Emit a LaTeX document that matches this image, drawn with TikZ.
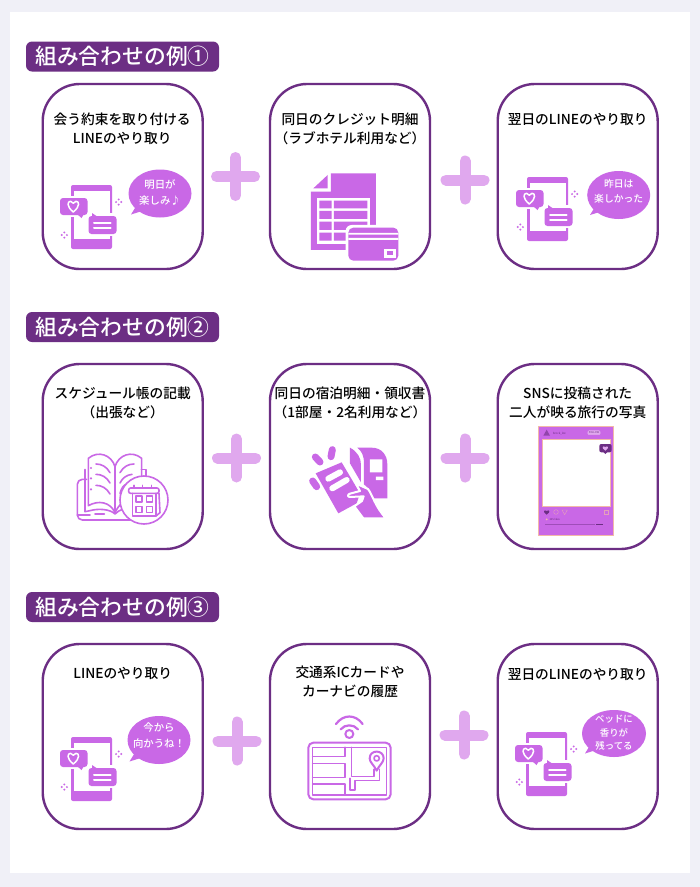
\documentclass[tikz,border=0pt]{standalone}
\usepackage{fontspec}
\setmainfont{Noto Sans CJK JP}
\newfontfamily\midfont{Noto Sans CJK JP Medium}
\definecolor{pagebg}{HTML}{F0F0F7}
\definecolor{deep}{HTML}{6C2E84}
\definecolor{vio}{HTML}{C968E6}
\definecolor{lite}{HTML}{E0A8EE}
\definecolor{peach}{HTML}{F2B8A8}
\tikzset{
  x=1pt,y=-1pt,
  card/.style={draw=deep,line width=2.4pt,fill=white,rounded corners=37pt,minimum width=160pt,minimum height=185pt,inner sep=0pt},
  headbox/.style={fill=deep,rounded corners=6pt,minimum width=193pt,minimum height=30pt,inner sep=0pt,text=white,font=\midfont\fontsize{21.8}{24}\selectfont},
  cardtext/.style={anchor=north,align=center,inner sep=0pt,font=\midfont\fontsize{13.7}{19}\selectfont},
  saytext/.style={align=center,inner sep=0pt,text=white,font=\midfont\fontsize{10.4}{16}\selectfont},
  saytextsmall/.style={align=center,inner sep=0pt,text=white,font=\midfont\fontsize{9.4}{13.5}\selectfont},
  plusarm/.style={draw=lite,line width=11pt,line cap=round},
  thinicon/.style={draw=vio,line width=1.6pt,line join=round,line cap=round},
  plussign/.pic={\draw[plusarm] (-19,0)--(19,0) (0,-19)--(0,19);},
  spark/.pic={\fill[vio] (0,-2.6) circle (1.1) (0,2.6) circle (1.1) (-2.6,0) circle (1.1) (2.6,0) circle (1.1);},
  phoneicon/.pic={
    \fill[vio,rounded corners=2pt] (0,0) rectangle (41,64);
    \fill[white] (2.5,6) rectangle (38.5,54);
    \fill[white] (-13,11) rectangle (18,32);
    \fill[vio,rounded corners=3pt] (-11,13) rectangle (16.5,30);
    \fill[vio] (6,29)--(13,29)--(10.5,33)--cycle;
    \draw[white,line width=1.5pt,line join=round] (2.3,27) .. controls (-5,21) and (-3.5,16.3) .. (-0.5,16.3) .. controls (0.8,16.3) and (1.8,17) .. (2.3,18.2) .. controls (2.8,17) and (3.8,16.3) .. (5.1,16.3) .. controls (8.1,16.3) and (9.6,21) .. (2.3,27)--cycle;
    \fill[white] (15.5,27.5) rectangle (48,51);
    \fill[vio,rounded corners=3pt] (17.5,31) rectangle (45.5,49);
    \fill[vio] (21,32)--(21,28)--(27,32)--cycle;
    \draw[white,line width=2pt,line cap=round] (23,37.8)--(39.7,37.8) (23,42.6)--(39.7,42.6);
    \pic at (47.7,17) {spark};
    \pic at (-6.7,50) {spark};
  },
}
\newcommand{\saybubble}[6]{% cx cy rx ry tipx tipy
  \fill[vio] (#1,#2) ellipse [x radius=#3,y radius=#4];
  \fill[vio] (#5,#6)--(#5+8,#6-13)--(#5+16,#6-5)--cycle;
}
\begin{document}
\begin{tikzpicture}
\useasboundingbox (0,0) rectangle (700,887);
\fill[pagebg] (0,0) rectangle (700,887);
\fill[white] (10,12) rectangle (690,873);

% section headings
\node[headbox] (h1) at (122.5,56.5) {組み合わせの例①};
\node[headbox] (h2) at (122.5,327) {組み合わせの例②};
\node[headbox] (h3) at (122.5,607) {組み合わせの例③};

% cards
\node[card] (a1) at (122.7,176.5) {};
\node[card] (a2) at (350,176.5) {};
\node[card] (a3) at (577.7,176.5) {};
\node[card] (b1) at (122.7,456.5) {};
\node[card] (b2) at (350,456.5) {};
\node[card] (b3) at (577.7,456.5) {};
\node[card] (c1) at (122.7,736.5) {};
\node[card] (c2) at (350,736.5) {};
\node[card] (c3) at (577.7,736.5) {};

% card captions
\node[cardtext] (ta1) at (122.2,113) {会う約束を取り付ける\\LINEのやり取り};
\node[cardtext] (ta2) at (350,113) {同日のクレジット明細\\（ラブホテル利用など）};
\node[cardtext] (ta3) at (577.7,113) {翌日のLINEのやり取り};
\node[cardtext] (tb1) at (122.7,387) {スケジュール帳の記載\\（出張など）};
\node[cardtext] (tb2) at (350,387) {同日の宿泊明細・領収書\\（1部屋・2名利用など）};
\node[cardtext] (tb3) at (577.7,387) {SNSに投稿された\\二人が映る旅行の写真};
\node[cardtext] (tc1) at (122.7,667) {LINEのやり取り};
\node[cardtext] (tc2) at (350,666) {交通系ICカードや\\カーナビの履歴};
\node[cardtext] (tc3) at (577.7,668) {翌日のLINEのやり取り};

% plus signs
\pic at (235.5,176.5) {plussign};
\pic at (465,180) {plussign};
\pic at (236.5,458) {plussign};
\pic at (465,458) {plussign};
\pic at (237,741) {plussign};
\pic at (464,735) {plussign};

% phones and speech bubbles
\pic at (71,185) {phoneicon};
\saybubble{160}{193.5}{31.5}{24}{131}{214.5}
\node[saytext] (s1) at (160,192) {明日が\\楽しみ♪};

\pic at (527,177) {phoneicon};
\saybubble{618.7}{195}{31.5}{24}{590}{215}
\node[saytextsmall,font=\midfont\fontsize{9.8}{15}\selectfont] (s2) at (618.7,191.5) {昨日は\\楽しかった};

\pic at (71,737) {phoneicon};
\saybubble{159}{740}{31.5}{24}{129.5}{761.5}
\node[saytext] (s3) at (159,736) {今から\\向かうね！};

\pic at (526,732) {phoneicon};
\saybubble{614}{733.5}{32}{23.5}{585}{753.5}
\node[saytextsmall] (s4) at (614,733) {ベッドに\\香りが\\残ってる};

% statement icon
\begin{scope}[shift={(260,80)},x=0.3333pt,y=-0.3333pt]
  \fill[vio] (213,280)--(348,280)--(348,510)--(153,510)--(153,335)--(213,335)--cycle;
  \fill[vio] (160,325)--(203,285)--(203,325)--cycle;
  \fill[white] (170,355) rectangle (330,492);
  \fill[vio] (178,362) rectangle (215,385) (222,362) rectangle (322,385)
             (178,393) rectangle (215,417) (222,393) rectangle (322,417)
             (178,425) rectangle (215,450) (222,425) rectangle (322,450)
             (178,458) rectangle (215,482) (222,458) rectangle (322,482);
  \fill[white,rounded corners=6] (257,435) rectangle (423,550);
  \fill[vio,rounded corners=5] (265,443) rectangle (415,542);
  \fill[white] (265,459) rectangle (415,464) (265,474) rectangle (415,480);
  \fill[white] (372,507) rectangle (408,533);
  \fill[vio] (380,514) rectangle (400,526);
\end{scope}

% planner icon
\begin{scope}[shift={(70,440)},x=0.3333pt,y=-0.3333pt]
  \draw[thinicon,rounded corners=5pt] (50,118)--(22,118)--(22,240)--(180,240);
  \draw[thinicon] (22,225)--(60,225);
  \draw[thinicon] (75,222)--(103,222);
  \draw[thinicon] (45,88)--(45,215)--(60,212) .. controls (85,205) and (120,207) .. (135,222) .. controls (150,207) and (165,205) .. (185,205);
  \draw[thinicon] (214,88)--(228,88)--(228,115);
  \draw[thinicon] (135,218)--(135,80) .. controls (125,45) and (85,30) .. (55,55)--(55,197) .. controls (85,180) and (120,185) .. (135,218);
  \draw[thinicon] (135,218) .. controls (148,190) and (165,180) .. (185,180);
  \draw[thinicon] (135,80) .. controls (145,45) and (185,30) .. (215,55)--(215,130);
  \draw[thinicon] (78,72) .. controls (95,72) and (110,80) .. (120,98);
  \draw[thinicon] (78,103) .. controls (95,103) and (110,111) .. (120,129);
  \draw[thinicon] (78,136) .. controls (95,136) and (110,144) .. (120,162);
  \draw[thinicon] (192,72) .. controls (175,72) and (160,80) .. (150,98);
  \draw[thinicon] (186,103) .. controls (170,105) and (158,113) .. (150,129);
  \draw[thinicon] (170,132) .. controls (160,136) and (154,145) .. (150,160);
  \fill[vio] (63,84) circle (3.5) (63,115) circle (3.5) (63,148) circle (3.5);
  \draw[thinicon,fill=white] (222,180) circle (72);
  \draw[thinicon] (188,160)--(188,228)--(258,228)--(258,160);
  \draw[thinicon,rounded corners=2pt] (176,160)--(176,144)--(267,144)--(267,160)--cycle;
  \draw[thinicon] (258,228)--(270,218)--(267,160);
  \draw[thinicon] (192,144)--(192,136) (218,144)--(218,136) (244,144)--(244,136);
  \draw[thinicon] (198,168) rectangle (216,186) (230,168) rectangle (248,186) (198,199) rectangle (216,217) (230,199) rectangle (248,217);
\end{scope}

% receipt icon
\begin{scope}[shift={(300,435)},x=0.3333pt,y=-0.3333pt]
  \fill[vio] (172,38)--(215,38) .. controls (245,38) and (262,60) .. (262,88)--(262,190)--(205,190)--(205,160)--(192,148)--(192,85) .. controls (192,62) and (185,48) .. (172,38)--cycle;
  \fill[vio] (150,38) .. controls (172,50) and (183,68) .. (183,90)--(183,142)--(150,85)--cycle;
  \fill[white] (210,73) rectangle (247,112) (228,125) rectangle (250,135);
  \fill[vio] (47,115)--(125,82)--(180,175)--(170,205)--(115,235)--cycle;
  \draw[vio,line width=7pt,line cap=round] (38,138)--(50,155);
  \draw[vio,line width=7pt,line cap=round] (46,66)--(60,81) (97,44)--(93,65);
  \draw[white,line width=6pt,line cap=round] (85,131)--(120,112) (97,160)--(140,135);
  \fill[vio,draw=white,line width=2pt,line join=round] (168,146)--(204,162) .. controls (218,180) and (225,215) .. (258,250)--(190,250)--(163,214)--(186,198)--(191,184)--(150,186) .. controls (142,186) and (142,178) .. (150,176)--(180,168)--cycle;
\end{scope}

% navigation icon
\begin{scope}[shift={(300,710)},x=0.3333pt,y=-0.3333pt]
  \draw[thinicon,line width=2pt] (148,72) circle (12);
  \draw[thinicon,line width=2.2pt] (122,58) .. controls (135,42) and (161,42) .. (174,58);
  \draw[thinicon,line width=2.2pt] (108,42) .. controls (130,12) and (166,12) .. (188,42);
  \draw[thinicon,line width=2pt,rounded corners=5pt] (25,98) rectangle (272,268);
  \draw[thinicon] (38,112) rectangle (260,255);
  \draw[thinicon] (38,140)--(135,140)--(135,112) (38,160)--(135,160)--(135,203)--(38,203) (38,222)--(135,222)--(135,255);
  \draw[thinicon] (155,112)--(155,200)--(222,200)--(222,178) (238,178)--(238,212)--(165,212)--(165,240)--(150,240)--(150,205);
  \draw[thinicon,line width=2pt] (230,182) .. controls (222,165) and (209,157) .. (209,145) .. controls (209,118) and (251,118) .. (251,145) .. controls (251,157) and (238,165) .. (230,182)--cycle;
  \draw[thinicon] (230,145) circle (8);
\end{scope}

% social post icon
\begin{scope}[shift={(530,420)},x=0.3333pt,y=-0.3333pt]
  \fill[vio,draw=peach,line width=0.4pt] (25,18) rectangle (250,345);
  \fill[white,draw=peach,line width=0.7pt] (38,58) rectangle (240,260);
  \fill[deep,rounded corners=2pt] (208,72) rectangle (245,97);
  \fill[deep] (220,96)--(232,96)--(226,102)--cycle;
  \fill[lite] (226,92) .. controls (212,83) and (219,76) .. (226,81) .. controls (233,76) and (240,83) .. (226,92)--cycle;
  \fill[deep,opacity=.6] (50,29)--(60,47)--(40,47)--cycle;
  \node[inner sep=0pt,anchor=west,text=deep,font=\fontsize{2.8}{3}\selectfont] (ig1) at (68,40) {brock\_lee};
  \node[draw=lite,fill=lite,rounded corners=1pt,inner sep=1pt,text=deep,font=\fontsize{2.6}{3}\selectfont] (ig2) at (192,38) {FOLLOW};
  \fill[deep] (50,284) .. controls (36,275) and (43,268) .. (50,273) .. controls (57,268) and (64,275) .. (50,284)--cycle;
  \draw[peach,opacity=.7,line width=0.4pt] (78,276) circle (7);
  \draw[peach,opacity=.7,line width=0.4pt] (96,270)--(112,270)--(104,284)--cycle;
  \draw[peach,opacity=.7,line width=0.4pt] (222,270) rectangle (236,284);
  \fill[peach] (50,298) circle (3);
  \node[inner sep=0pt,anchor=west,text=deep,font=\fontsize{2.6}{3}\selectfont] (ig3) at (58,298) {345 likes};
  \draw[deep,opacity=.45,line width=0.6pt] (45,313)--(195,313);
  \draw[deep,line width=0.8pt] (198,313)--(220,313);
\end{scope}
\end{tikzpicture}
\end{document}
